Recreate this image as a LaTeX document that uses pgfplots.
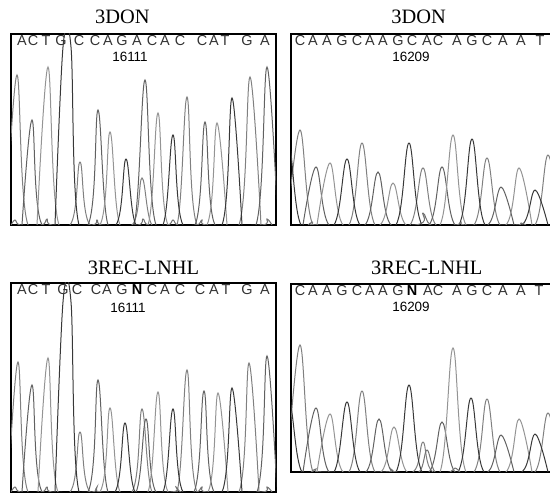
\documentclass[border=0pt]{standalone}
\usepackage{fontspec}
\setmainfont{Liberation Serif}
\newfontfamily\arial{Liberation Sans}
\usepackage{pgfplots}
\pgfplotsset{compat=1.18}

\definecolor{trA}{gray}{0.5}
\definecolor{trB}{gray}{0.38}
\definecolor{trC}{gray}{0.58}
\definecolor{trD}{gray}{0.22}
\definecolor{trE}{gray}{0.45}
\definecolor{lettergray}{gray}{0.2}

\tikzset{posnum/.style={font=\arial\fontsize{13.5}{13.5}\selectfont}}
\pgfplotsset{
  chrom/.style={
    scale only axis, ymin=0, xmin=0, clip=true,
    axis line style={line width=1.6bp},
    ytick=\empty, xticklabel pos=upper,
    major tick length=0pt, xtick style={draw=none},
    xticklabel style={font=\arial\fontsize{14.5}{14.5}\selectfont,
      text=lettergray, anchor=center, yshift=-7bp},
    title style={font=\fontsize{20.5}{24}\selectfont, anchor=base},
    every axis plot/.append style={smooth, tension=0.58, line width=1bp, mark=none},
  },
}

\begin{document}
\begin{tikzpicture}
\useasboundingbox (0,0) rectangle (550bp,494bp);

% ---- top left
\begin{axis}[chrom, at={(11bp,460bp)}, anchor=north west,
  width=265bp, height=191bp, xmax=265, ymax=191,
  title={3DON}, title style={at={(0.42,1)}, yshift=5bp},
  xtick={11,22,35,50,68,84,97,111,126,141,154,169,191,203,214,236,254},
  xticklabels={A,C,T,G,C,C,A,G,A,C,A,C,C,A,T,G,A}]
\addplot[trA] coordinates {(-5,0)(6,150)(17,0) (59,0)(69,63)(79,0) (121,0)(131,47)(141,0) (166,0)(176,128)(186,0) (228,0)(239,148)(250,0)};
\addplot[trB] coordinates {(11,0)(21,105)(31,0) (77,0)(87,115)(97,0) (123,0)(134,145)(145,0) (184,0)(194,103)(204,0) (245,0)(256,158)(267,0)};
\addplot[trC] coordinates {(26,0)(37,158)(48,0) (89,0)(99,93)(109,0) (137,0)(147,112)(157,0) (196,0)(206,102)(216,0)};
\addplot[trD] coordinates {(44,0)(52,178)(60,178)(68,0) (105,0)(115,66)(125,0) (152,0)(162,90)(172,0) (211,0)(221,127)(231,0)};
\addplot[trE] coordinates {(0,0)(4,5)(9,0) (31,0)(36,6)(41,0) (81,0)(86,5)(91,0) (127,0)(132,6)(137,0) (157,0)(162,5)(167,0) (186,0)(191,5)(196,0) (251,0)(256,6)(261,0)};
\node[posnum] at (axis cs:119,168) {16111};
\end{axis}

% ---- top right
\begin{axis}[chrom, at={(291bp,460bp)}, anchor=north west,
  width=266bp, height=191bp, xmax=266, ymax=191,
  title={3DON}, title style={at={(0.48,1)}, yshift=5bp},
  xtick={9,22,36,51,66,79,92,107,121,136,147,166,181,196,212,230,249},
  xticklabels={C,A,A,G,C,A,A,G,C,A,C,A,G,C,A,A,T}]
\addplot[trA] coordinates {(-4,0)(9,95)(22,0) (58,0)(71,82)(84,0) (119,0)(132,57)(145,0) (183,0)(196,67)(209,0) (244,0)(257,70)(270,0)};
\addplot[trB] coordinates {(12,0)(25,58)(38,0) (74,0)(87,53)(100,0) (138,0)(151,58)(164,0) (197,0)(210,38)(223,0)};
\addplot[trC] coordinates {(26,0)(39,62)(52,0) (89,0)(102,42)(115,0) (149,0)(162,90)(175,0) (215,0)(228,57)(241,0)};
\addplot[trD] coordinates {(-16,0)(-3,85)(10,0) (43,0)(56,66)(69,0) (105,0)(118,82)(131,0) (168,0)(181,86)(194,0) (231,0)(244,35)(257,0)};
\addplot[trE] coordinates {(17,0)(22,3)(27,0) (124,0)(132,12)(140,0) (165,0)(170,3)(175,0) (225,0)(230,2)(235,0)};
\node[posnum] at (axis cs:120,168) {16209};
\end{axis}

% ---- bottom left
\begin{axis}[chrom, at={(11bp,211bp)}, anchor=north west,
  width=265bp, height=209bp, xmax=265, ymax=209,
  title={3REC-LNHL}, title style={at={(0.5,1)}, yshift=2.5bp},
  xtick={11,22,35,52,66,85,96,111,126,141,154,169,189,203,215,236,254},
  xticklabels={A,C,T,G,C,C,A,G,{\textcolor{black}{\bfseries N}},C,A,C,C,A,T,G,A}]
\addplot[trA] coordinates {(-3,0)(7,130)(17,0) (59,0)(69,60)(79,0) (121,0)(131,83)(141,0) (166,0)(176,122)(186,0) (228,0)(238,129)(248,0)};
\addplot[trB] coordinates {(11,0)(21,107)(31,0) (77,0)(87,112)(97,0) (125,0)(135,73)(145,0) (183,0)(193,101)(203,0) (246,0)(256,136)(266,0)};
\addplot[trC] coordinates {(27,0)(37,134)(47,0) (89,0)(99,84)(109,0) (137,0)(147,100)(157,0) (197,0)(207,99)(217,0)};
\addplot[trD] coordinates {(44,0)(52,190)(60,190)(68,0) (104,0)(114,69)(124,0) (152,0)(162,83)(172,0) (211,0)(221,104)(231,0)};
\addplot[trE] coordinates {(0,0)(4,5)(9,0) (31,0)(36,5)(41,0) (81,0)(86,5)(91,0) (160,0)(165,5)(170,0) (186,0)(191,5)(196,0) (251,0)(256,5)(261,0)};
\node[posnum] at (axis cs:117,184) {16111};
\end{axis}

% ---- bottom right
\begin{axis}[chrom, at={(291bp,210bp)}, anchor=north west,
  width=266bp, height=188bp, xmax=266, ymax=188,
  title={3REC-LNHL}, title style={at={(0.51,1)}, yshift=3.5bp},
  xtick={9,22,36,51,66,79,92,107,121,137,147,166,181,196,212,230,248},
  xticklabels={C,A,A,G,C,A,A,G,{\textcolor{black}{\bfseries N}},A,C,A,G,C,A,A,T}]
\addplot[trA] coordinates {(-4,0)(9,127)(22,0) (58,0)(71,81)(84,0) (122,0)(132,30)(142,0) (183,0)(196,73)(209,0) (244,0)(257,59)(270,0)};
\addplot[trB] coordinates {(12,0)(25,64)(38,0) (75,0)(88,53)(101,0) (138,0)(151,50)(164,0) (197,0)(210,37)(223,0)};
\addplot[trC] coordinates {(26,0)(39,58)(52,0) (90,0)(103,45)(116,0) (149,0)(162,124)(175,0) (215,0)(228,53)(241,0)};
\addplot[trD] coordinates {(-15,0)(-2,70)(11,0) (43,0)(56,70)(69,0) (105,0)(118,87)(131,0) (167,0)(180,74)(193,0) (231,0)(244,38)(257,0)};
\addplot[trE] coordinates {(20,0)(25,3)(30,0) (95,0)(100,3)(105,0) (128,0)(136,22)(144,0) (159,0)(164,4)(169,0)};
\node[posnum] at (axis cs:120,165) {16209};
\end{axis}
\end{tikzpicture}
\end{document}
